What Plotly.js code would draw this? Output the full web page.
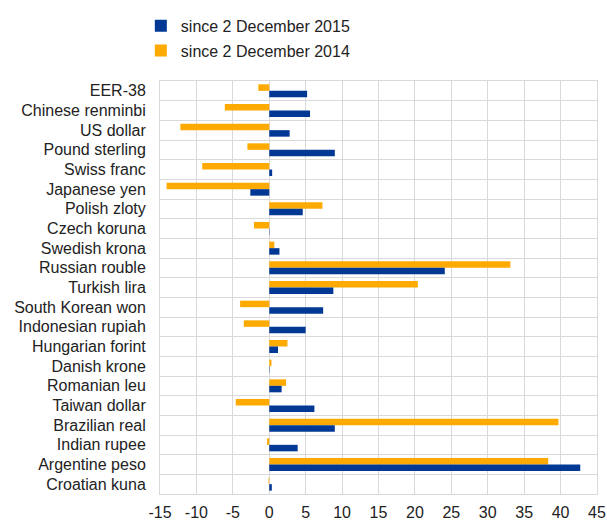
<!DOCTYPE html>
<html>
<head>
<meta charset="utf-8">
<script src="https://cdn.plot.ly/plotly-3.0.1.min.js"></script>
<style>html,body{margin:0;padding:0;background:#fff;}#chart{width:607px;height:521px;}</style>
</head>
<body>
<div id="chart"></div>
<script>
var categories = ["EER-38","Chinese renminbi","US dollar","Pound sterling","Swiss franc","Japanese yen","Polish zloty","Czech koruna","Swedish krona","Russian rouble","Turkish lira","South Korean won","Indonesian rupiah","Hungarian forint","Danish krone","Romanian leu","Taiwan dollar","Brazilian real","Indian rupee","Argentine peso","Croatian kuna"];
var since2015 = [5.2, 5.6, 2.8, 9.0, 0.4, -2.6, 4.6, 0.05, 1.4, 24.1, 8.8, 7.4, 5.0, 1.2, 0.05, 1.7, 6.2, 9.0, 3.9, 42.7, 0.35];
var since2014 = [-1.5, -6.1, -12.2, -3.0, -9.2, -14.1, 7.3, -2.1, 0.7, 33.1, 20.4, -4.0, -3.5, 2.5, 0.3, 2.3, -4.6, 39.7, -0.3, 38.3, -0.1];
var seriesNames = ["since 2 December 2015", "since 2 December 2014"];
var xTicks = [-15,-10,-5,0,5,10,15,20,25,30,35,40,45];

var font = {family: "Liberation Sans, Arial, sans-serif", size: 16, color: "#222"};
var data = [
  {type: "bar", orientation: "h", name: seriesNames[1], y: categories, x: since2014,
   marker: {color: "#ffaa00"}, legendrank: 2, legendgroup: "b"},
  {type: "bar", orientation: "h", name: seriesNames[0], y: categories, x: since2015,
   marker: {color: "#003894"}, legendrank: 1, legendgroup: "a"}
];
var layout = {
  width: 607, height: 521,
  margin: {l: 160, r: 10, t: 81, b: 27, autoexpand: false},
  paper_bgcolor: "#fff", plot_bgcolor: "#fff",
  font: font,
  barmode: "group", bargap: 0.34, bargroupgap: 0,
  showlegend: true,
  legend: {xref: "container", yref: "container", x: 0.232, y: 0.983, xanchor: "left", yanchor: "top",
           font: font, tracegroupgap: 1, traceorder: "grouped", bgcolor: "rgba(0,0,0,0)"},
  xaxis: {range: [-15, 45], tickvals: xTicks, ticktext: xTicks.map(String), tickangle: 0, automargin: false,
          showgrid: true, gridcolor: "#d9d9d9", gridwidth: 1, zeroline: false,
          showline: true, linecolor: "#d9d9d9", mirror: true,
          ticks: "outside", ticklen: 4, tickcolor: "rgba(0,0,0,0)", tickfont: font},
  yaxis: {type: "category", autorange: "reversed", tickson: "boundaries", automargin: false,
          showgrid: true, gridcolor: "#d9d9d9", gridwidth: 1,
          showline: true, linecolor: "#d9d9d9", mirror: true,
          ticks: "outside", ticklen: 8, tickcolor: "rgba(0,0,0,0)", ticklabelstandoff: 10, tickfont: font}
};
Plotly.newPlot("chart", data, layout, {displayModeBar: false, staticPlot: true});
</script>
</body>
</html>
